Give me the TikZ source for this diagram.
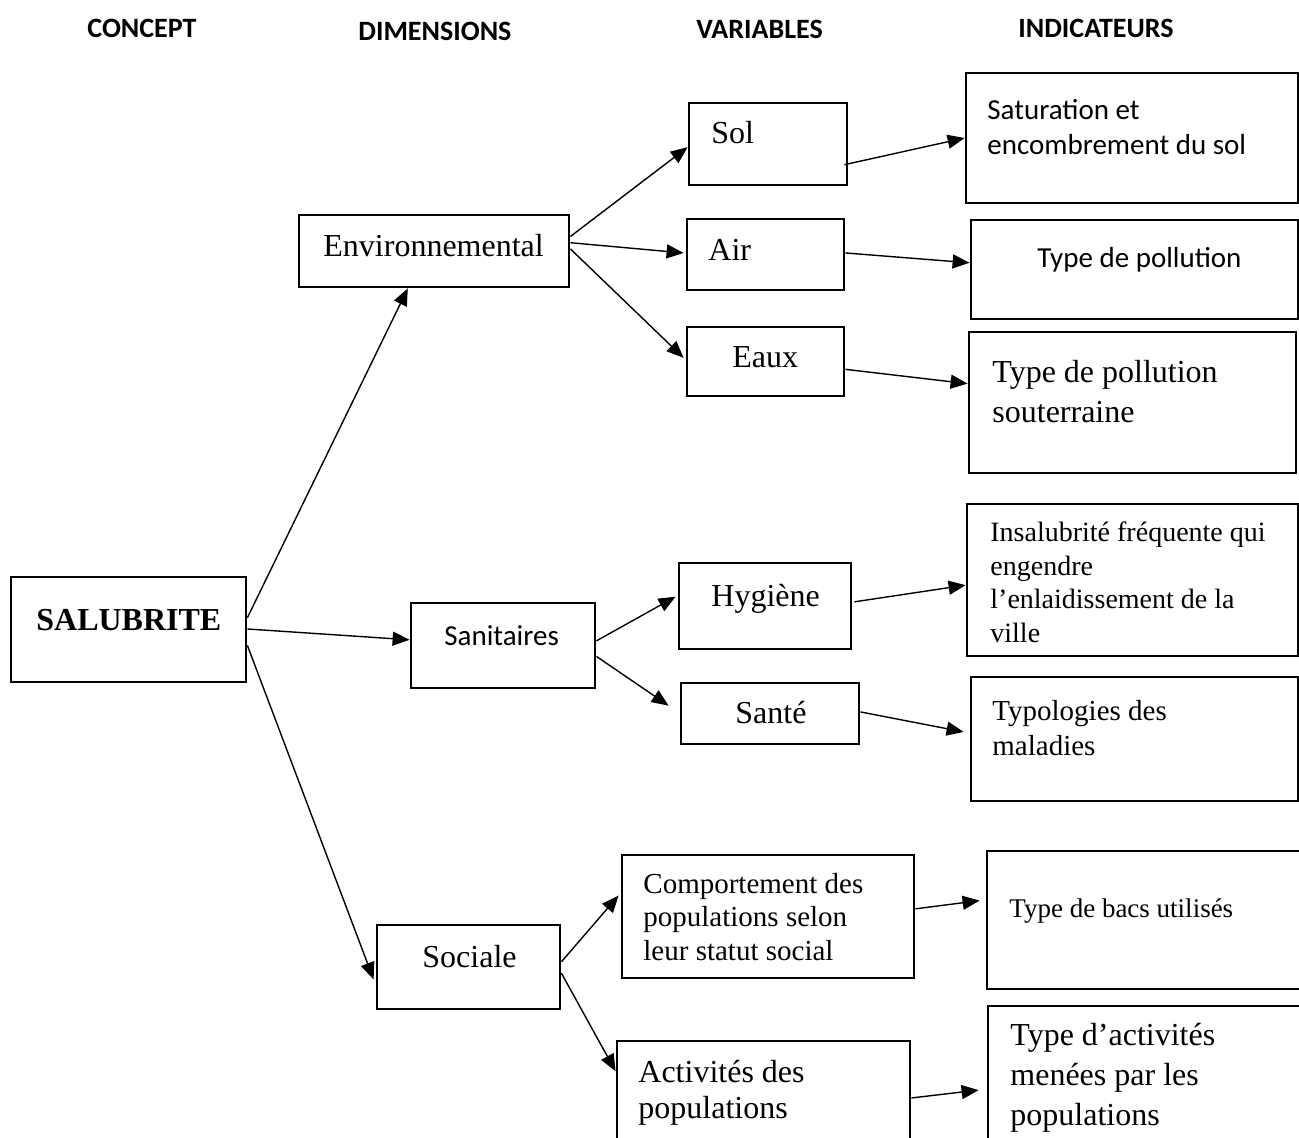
\documentclass[tikz,border=0pt]{standalone}
\usepackage{fontspec}
\setmainfont{Liberation Serif}
\newfontfamily\carlito{Carlito}
\usetikzlibrary{calc,arrows.meta}
\begin{document}
\begin{tikzpicture}[x=0.5pt,y=-0.5pt,
  box/.style 2 args={draw, line width=1.4pt, inner sep=0pt,
    minimum width=#1*0.5pt, minimum height=#2*0.5pt},
  txt/.style={anchor=base west, inner sep=0pt, align=left},
  head/.style={txt, font=\carlito\bfseries\fontsize{14}{17}\selectfont},
  arr/.style={line width=0.7pt, -{Triangle[length=8.5pt,width=7pt]}}]
\useasboundingbox (0,0) rectangle (1299,1137);
\clip (0,0) rectangle (1299,1137);

% column headings
\node[head] (hconcept) at (87,37) {CONCEPT};
\node[head] (hdim) at (358,40) {DIMENSIONS};
\node[head] (hvar) at (696,38) {VARIABLES};
\node[head] (hind) at (1018,37) {INDICATEURS};

% concept
\node[box={235}{105}] (salub) at (128.5,629.5) {};
% dimensions
\node[box={270}{72}] (env) at (434,251) {};
\node[box={184}{85}] (sanit) at (503,645.5) {};
\node[box={183}{84}] (social) at (468.5,967) {};
% variables
\node[box={158}{82}] (sol) at (768,144) {};
\node[box={157}{71}] (air) at (765.5,254.5) {};
\node[box={157}{69}] (eaux) at (765.5,361.5) {};
\node[box={172}{86}] (hyg) at (765,606) {};
\node[box={178}{61}] (sante) at (770,713.5) {};
\node[box={292}{123}] (comp) at (768,916.5) {};
\node[box={293}{119}] (activ) at (763.5,1100.5) {};
% indicators
\node[box={332}{130}] (satur) at (1132,138) {};
\node[box={327}{99}] (typoll) at (1134.5,269.5) {};
\node[box={327}{141}] (souter) at (1132.5,402.5) {};
\node[box={331}{152}] (insal) at (1132.5,580) {};
\node[box={327}{124}] (typolog) at (1134.5,739) {};
\node[box={315}{138}] (bacs) at (1144.5,920) {};
\node[box={314}{154}] (tact) at (1145,1083) {};

% box texts (placed at the baseline of their last line)
\node[txt, font=\bfseries\fontsize{16}{18}\selectfont] (tsalub) at (36,630) {SALUBRITE};
\node[txt, font=\fontsize{16}{18}\selectfont] (tenv) at (323,256) {Environnemental};
\node[txt, font=\carlito\fontsize{14.5}{17.5}\selectfont] (tsanit) at (444,645) {Sanitaires};
\node[txt, font=\fontsize{16}{18}\selectfont] (tsocial) at (422,967) {Sociale};
\node[txt, font=\fontsize{16}{18}\selectfont] (tsol) at (711,143) {Sol};
\node[txt, font=\fontsize{16}{18}\selectfont] (tair) at (708,260) {Air};
\node[txt, font=\fontsize{16}{18}\selectfont] (teaux) at (732,367) {Eaux};
\node[txt, font=\fontsize{16}{18}\selectfont] (thyg) at (711,606) {Hygiène};
\node[txt, font=\fontsize{16}{18}\selectfont] (tsante) at (735,723) {Santé};
\node[txt, font=\fontsize{14.5}{16.75}\selectfont] (tcomp) at (643,960)
  {Comportement des\\populations selon\\leur statut social};
\node[txt, font=\fontsize{16}{18}\selectfont] (tactiv) at (638,1118)
  {Activités des\\populations};
\node[txt, font=\carlito\fontsize{14.5}{17.5}\selectfont] (tsatur) at (987,154)
  {Saturation et\\encombrement du sol};
\node[txt, font=\carlito\fontsize{14.5}{17.5}\selectfont] (ttypoll) at (1037,267) {Type de pollution};
\node[txt, font=\fontsize{16}{20}\selectfont] (tsouter) at (992,422)
  {Type de pollution\\souterraine};
\node[txt, font=\fontsize{14}{16.7}\selectfont] (tinsal) at (990,642)
  {Insalubrité fréquente qui\\engendre\\l’enlaidissement de la\\ville};
\node[txt, font=\fontsize{14.5}{17.5}\selectfont] (ttypolog) at (992,755)
  {Typologies des\\maladies};
\node[txt, font=\fontsize{13.5}{16}\selectfont] (tbacs) at (1009,917) {Type de bacs utilisés};
\node[txt, font=\fontsize{16}{20}\selectfont] (ttact) at (1010,1125)
  {Type d’activités\\menées par les\\populations};

% concept to dimensions
\draw[arr] ($(salub.north east)!0.39!(salub.south east)$) -- ($(env.south west)!0.404!(env.south east)$);
\draw[arr] ($(salub.north east)!0.495!(salub.south east)$) -- ($(sanit.north west)!0.435!(sanit.south west)$);
\draw[arr] ($(salub.north east)!0.648!(salub.south east)$) -- ([xshift=-1pt]$(social.north west)!0.643!(social.south west)$);
% dimensions to variables
\draw[arr] ($(env.north east)!0.306!(env.south east)$) -- ($(sol.north west)!0.537!(sol.south west)$);
\draw[arr] ($(env.north east)!0.389!(env.south east)$) -- ([xshift=-1pt]$(air.north west)!0.479!(air.south west)$);
\draw[arr] ($(env.north east)!0.472!(env.south east)$) -- ([xshift=-1pt]$(eaux.north west)!0.449!(eaux.south west)$);
\draw[arr] ($(sanit.north east)!0.447!(sanit.south east)$) -- ([xshift=-1pt]$(hyg.north west)!0.395!(hyg.south west)$);
\draw[arr] ($(sanit.north east)!0.624!(sanit.south east)$) -- ([xshift=-5.5pt]$(sante.north west)!0.377!(sante.south west)$);
\draw[arr] ($(social.north east)!0.44!(social.south east)$) -- ([xshift=-1pt]$(comp.north west)!0.333!(comp.south west)$);
\draw[arr] ($(social.north east)!0.571!(social.south east)$) -- ($(activ.north west)!0.26!(activ.south west)$);
% variables to indicators
\draw[arr] ([xshift=-2pt]$(sol.north east)!0.744!(sol.south east)$) -- ($(satur.north west)!0.5!(satur.south west)$);
\draw[arr] ($(air.north east)!0.479!(air.south east)$) -- ($(typoll.north west)!0.434!(typoll.south west)$);
\draw[arr] ($(eaux.north east)!0.609!(eaux.south east)$) -- ($(souter.north west)!0.369!(souter.south west)$);
\draw[arr] ([xshift=1pt]$(hyg.north east)!0.453!(hyg.south east)$) -- ($(insal.north west)!0.533!(insal.south west)$);
\draw[arr] ($(sante.north east)!0.475!(sante.south east)$) -- ([xshift=-3pt]$(typolog.north west)!0.444!(typolog.south west)$);
\draw[arr] ($(comp.north east)!0.439!(comp.south east)$) -- ([xshift=-3pt]$(bacs.north west)!0.362!(bacs.south west)$);
\draw[arr] ($(activ.north east)!0.479!(activ.south east)$) -- ([xshift=-4pt]$(tact.north west)!0.545!(tact.south west)$);
\end{tikzpicture}
\end{document}
